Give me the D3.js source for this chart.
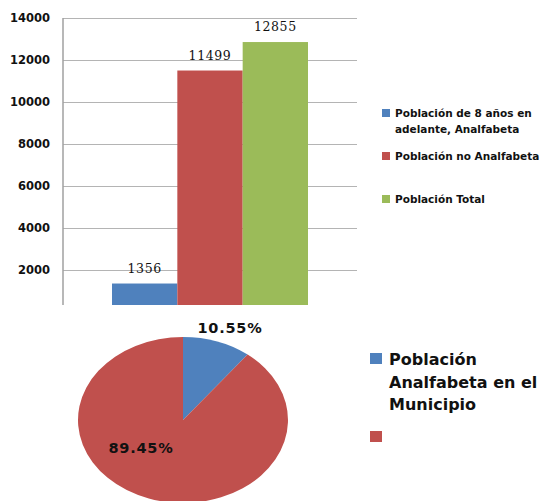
<!DOCTYPE html>
<html>
<head>
<meta charset="utf-8">
<script src="https://cdn.jsdelivr.net/npm/d3@7"></script>
<style>
  html, body { margin: 0; padding: 0; background: #fff; }
  svg { display: block; }
</style>
</head>
<body>
<script>
// Población alfabeta / analfabeta del municipio
const barSeries = ["Población de 8 años en adelante, Analfabeta", "Población no Analfabeta", "Población Total"];
const barLegendLines = [["Población de 8 años en", "adelante, Analfabeta"], ["Población no Analfabeta"], ["Población Total"]];
const barValues = [1356, 11499, 12855];
const yTicks = [2000, 4000, 6000, 8000, 10000, 12000, 14000];

const pieSeries = ["Población Analfabeta en el Municipio", ""];
const pieLegendLines = [["Población", "Analfabeta en el", "Municipio"], [""]];
const pieValues = [10.55, 89.45];
const pieLabels = ["10.55%", "89.45%"];

const colors = ["#4F81BD", "#C0504D", "#9BBB59"];

const W = 546, H = 501;
const svg = d3.select("body").append("svg").attr("width", W).attr("height", H);

// ---------- Bar chart ----------
const plot = { left: 63, right: 357, top: 18, bottom: 305 };
const y = d3.scaleLinear().domain([0, 14000]).range([312, 18]);
const x0 = d3.scaleBand().domain(["grupo"]).range([plot.left, plot.right]).paddingInner(0.2).paddingOuter(0.2);
const x1 = d3.scaleBand().domain(barSeries).range([0, x0.bandwidth()]).padding(0);

const bars = svg.append("g");

// gridlines + tick labels
const yAxis = d3.axisLeft(y).tickValues(yTicks).tickSize(-(plot.right - plot.left)).tickPadding(13).tickFormat(d3.format("d"));
const ay = bars.append("g").attr("transform", `translate(${plot.left},0)`).call(yAxis);
ay.select(".domain").remove();
ay.selectAll(".tick line").attr("stroke", "#b4b4b4").attr("stroke-width", 1);
ay.selectAll(".tick text")
  .attr("fill", "#111")
  .style("font-family", "'DejaVu Sans', sans-serif")
  .style("font-weight", "bold")
  .style("font-size", "11.5px");

// vertical axis line
bars.append("line")
  .attr("x1", plot.left).attr("x2", plot.left)
  .attr("y1", plot.top).attr("y2", plot.bottom)
  .attr("stroke", "#a0a0a0").attr("stroke-width", 1.5);

const gBars = bars.append("g").attr("transform", `translate(${x0("grupo")},0)`);
gBars.selectAll("rect").data(barValues).join("rect")
  .attr("x", (d, i) => x1(barSeries[i]))
  .attr("width", x1.bandwidth())
  .attr("y", d => y(d))
  .attr("height", d => plot.bottom - y(d))
  .attr("fill", (d, i) => colors[i]);

gBars.selectAll("text").data(barValues).join("text")
  .attr("x", (d, i) => x1(barSeries[i]) + x1.bandwidth() / 2)
  .attr("y", d => y(d) - 11)
  .attr("text-anchor", "middle")
  .attr("fill", "#111")
  .style("font-family", "'DejaVu Serif', serif")
  .style("font-size", "12.5px")
  .style("letter-spacing", "0.6px")
  .text(d => d);

// bar legend
const legBar = svg.append("g");
const legBarRows = [113, 156, 199];
barLegendLines.forEach((lines, i) => {
  const cy = legBarRows[i];
  legBar.append("rect").attr("x", 382).attr("y", cy - 4).attr("width", 8).attr("height", 8).attr("fill", colors[i]);
  lines.forEach((t, j) => {
    legBar.append("text")
      .attr("x", 395).attr("y", cy + j * 16 + 4)
      .attr("fill", "#111")
      .style("font-family", "'DejaVu Sans', sans-serif")
      .style("font-size", "10.5px")
      .style("font-weight", "bold")
      .text(t);
  });
});

// ---------- Pie chart ----------
const cx = 183, cyPie = 420, r = 83, sx = 1.265;
const pie = d3.pie().sort(null).value(d => d);
const arc = d3.arc().innerRadius(0).outerRadius(r);
const gPie = svg.append("g").attr("transform", `translate(${cx},${cyPie}) scale(${sx},1)`);
gPie.selectAll("path").data(pie(pieValues)).join("path")
  .attr("d", arc)
  .attr("fill", (d, i) => colors[i]);

const pieLabelPos = [[230, 333], [141, 453]];
svg.selectAll("text.pielab").data(pieLabels).join("text")
  .attr("class", "pielab")
  .attr("x", (d, i) => pieLabelPos[i][0])
  .attr("y", (d, i) => pieLabelPos[i][1])
  .attr("text-anchor", "middle")
  .attr("fill", "#111")
  .style("font-family", "'DejaVu Sans', sans-serif")
  .style("font-size", "14.5px")
  .style("font-weight", "bold")
  .style("letter-spacing", "0.8px")
  .text(d => d);

// pie legend
const legPie = svg.append("g");
const legPieRows = [359, 437];
pieLegendLines.forEach((lines, i) => {
  const cy = legPieRows[i];
  legPie.append("rect").attr("x", 370).attr("y", cy - 6).attr("width", 12).attr("height", 11).attr("fill", colors[i]);
  lines.forEach((t, j) => {
    legPie.append("text")
      .attr("x", 389).attr("y", cy + j * 22.5 + 6)
      .attr("fill", "#111")
      .style("font-family", "'DejaVu Sans', sans-serif")
      .style("font-size", "16px")
      .style("font-weight", "bold")
      .text(t);
  });
});
</script>
</body>
</html>
